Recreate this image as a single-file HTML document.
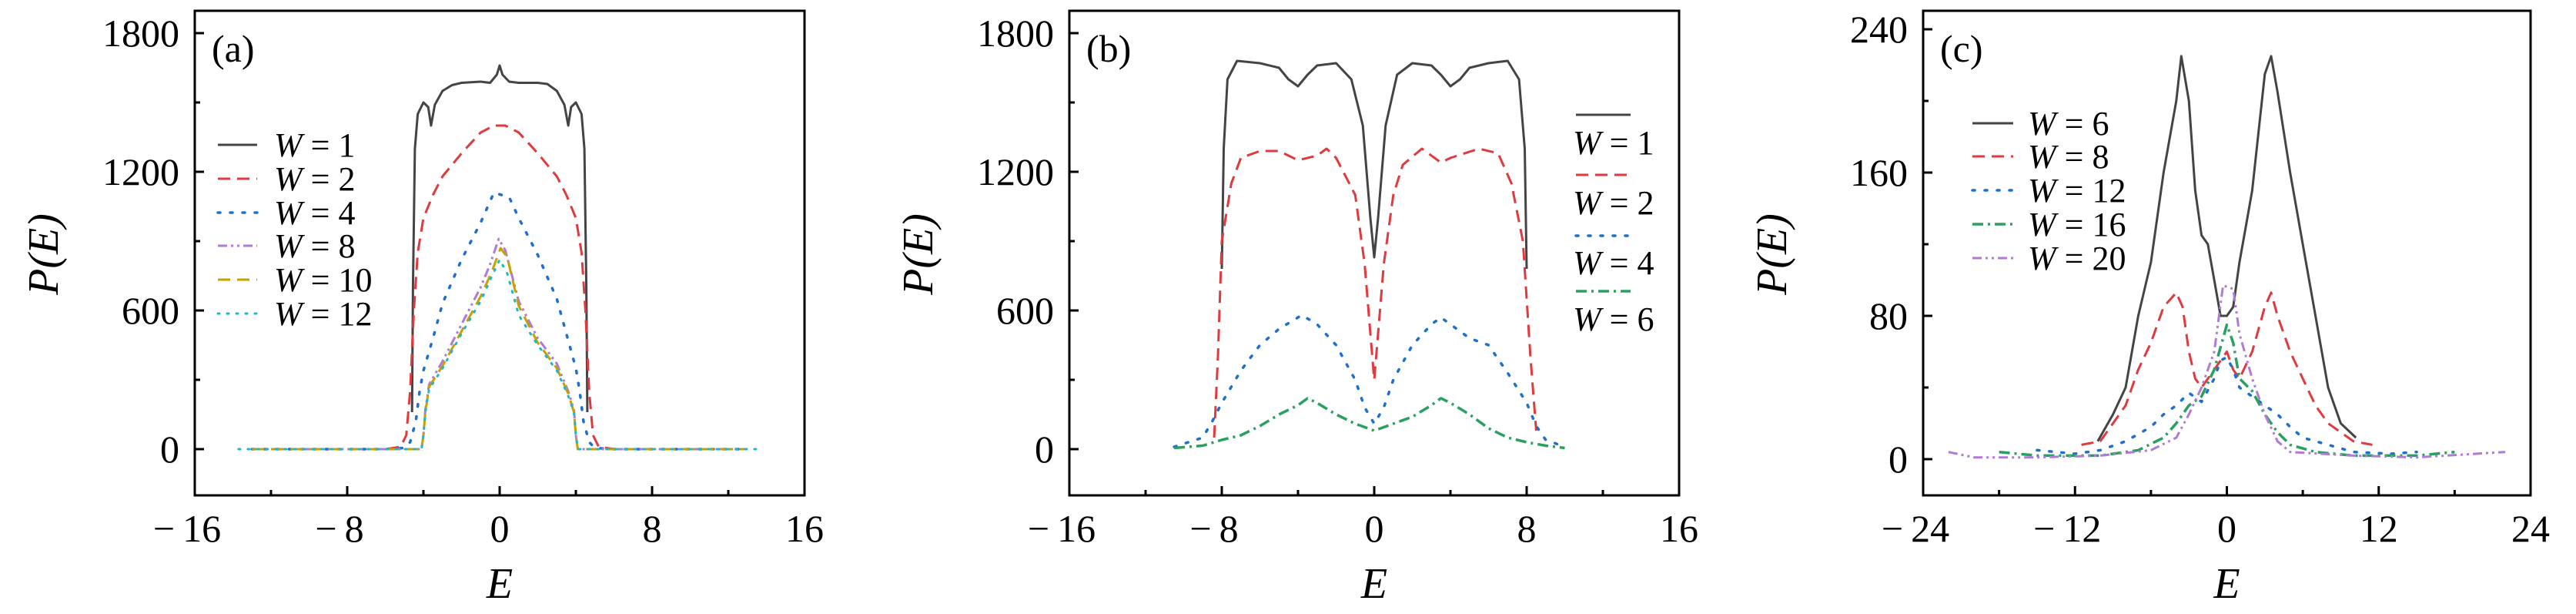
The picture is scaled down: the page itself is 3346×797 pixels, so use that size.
<!DOCTYPE html>
<html><head><meta charset="utf-8">
<style>
html,body{margin:0;padding:0;background:#fff;}
svg{display:block;}
text{font-family:"Liberation Serif",serif;fill:#000;}
</style></head>
<body>
<svg id="fig" width="3346" height="797" viewBox="0 0 3346 797" xmlns="http://www.w3.org/2000/svg"></svg>
<script>
// ---- Panel (a) data ----
const aNames = ["W = 1","W = 2","W = 4","W = 8","W = 10","W = 12"];
const aW1E = [-4.6,-4.55,-4.45,-4.3,-4.0,-3.75,-3.6,-3.4,-3.0,-2.5,-2.0,-1.0,-0.5,-0.15,0,0.15,0.5,1.0,2.0,2.5,3.0,3.4,3.6,3.75,4.0,4.3,4.45,4.55,4.6];
const aW1P = [160,700,1300,1450,1500,1480,1400,1490,1550,1575,1585,1590,1585,1620,1660,1620,1590,1585,1585,1580,1550,1490,1400,1480,1500,1450,1300,700,160];
const aW2E = [-13,-6,-5.2,-4.9,-4.7,-4.5,-4.3,-4.0,-3.5,-3.0,-2.0,-1.0,-0.3,0,0.3,1.0,2.0,3.0,3.5,4.0,4.3,4.5,4.7,4.9,5.2,6,13];
const aW2P = [0,0,10,60,250,600,850,1000,1100,1180,1280,1370,1400,1400,1400,1370,1280,1180,1100,1000,850,600,250,60,10,0,0];
const aW4E = [-13,-6,-5,-4.7,-4.4,-4.2,-4,-3.5,-3,-2,-1,-0.3,0.5,1,2,3,3.5,4,4.2,4.4,4.7,5,6,13];
const aW4P = [0,0,5,30,120,250,340,480,630,820,980,1110,1090,1000,840,650,500,350,250,120,30,5,0,0];
const aW8E = [-13,-4.1,-4.0,-3.9,-3.7,-3,-2,-1,-0.5,-0.05,0.3,1,2,3,3.6,3.9,4.0,4.1,13];
const aW8P = [0,0,60,170,280,380,540,700,800,910,860,640,480,370,250,170,60,0,0];
const aW10E = [-13,-4.1,-4.0,-3.9,-3.7,-3,-2,-1,-0.4,0.05,0.4,1,2,3,3.6,3.9,4.0,4.1,13];
const aW10P = [0,0,60,160,270,360,510,660,770,870,830,620,460,350,240,160,60,0,0];
const aW12E = [-13.7,-4.1,-4.0,-3.9,-3.7,-3,-2,-1,-0.4,0,0.4,1,2,3,3.6,3.9,4.0,4.1,13.7];
const aW12P = [0,0,60,160,260,350,500,640,750,820,760,580,450,340,230,160,60,0,0];
// ---- Panel (b) data ----
const bNames = ["W = 1","W = 2","W = 4","W = 6"];
const bW1E = [-8,-7.9,-7.7,-7.2,-6,-5,-4.5,-4,-3.5,-3,-2,-1.2,-0.6,-0.2,0,0.2,0.6,1.2,2,3,3.5,4,4.5,5,6,7,7.6,7.9,8];
const bW1P = [780,1300,1600,1680,1670,1650,1600,1570,1620,1660,1670,1600,1400,1000,830,1000,1400,1620,1670,1660,1620,1570,1600,1650,1670,1680,1600,1300,780];
const bW2E = [-8.4,-8.2,-8,-7.5,-7,-6,-5,-4,-3,-2.5,-2,-1,-0.5,-0.2,0,0.2,0.5,1,1.5,2.5,3.5,4,5.5,6.5,7.2,7.8,8.2,8.5];
const bW2P = [50,400,900,1150,1260,1290,1290,1250,1270,1300,1260,1100,800,500,300,500,800,1100,1230,1300,1240,1260,1300,1280,1150,900,400,80];
const bW4E = [-10.5,-9,-8.5,-8,-7,-6,-5,-3.8,-3,-2,-1,-0.5,0,0.5,1,2,3,3.5,4,5,6,7,8,8.5,9,10];
const bW4P = [10,50,120,200,340,450,520,580,540,450,300,180,110,180,300,450,540,570,540,480,450,330,200,100,40,10];
const bW6E = [-10.5,-9,-8,-7,-6,-5,-4,-3.5,-3,-2,-1,0,1,2,3,3.5,4,5,6,7,8,9,10];
const bW6P = [5,15,40,60,100,150,190,220,200,150,110,80,110,140,190,220,200,150,90,50,30,15,5];
// ---- Panel (c) data ----
const cNames = ["W = 6","W = 8","W = 12","W = 16","W = 20"];
const cW6E = [-10.2,-9,-8,-7,-6,-5,-4,-3.6,-3,-2.5,-2,-1.5,-1,-0.5,0,0.5,1,1.5,2,3,3.5,4,5,6,7,8,9,10.2];
const cW6P = [10,25,40,80,110,160,200,225,200,150,125,120,100,80,80,85,110,130,150,215,225,205,160,120,80,40,20,12];
const cW8E = [-11.5,-10,-9,-8,-7,-6,-5,-4,-3.5,-3,-2.5,-2,-1,0,0.5,1,2,3,3.5,4,5,6,7,8,10,11.5];
const cW8P = [8,10,20,30,50,65,85,93,85,60,45,40,50,60,50,45,60,85,93,80,60,45,30,20,10,8];
const cW12E = [-15,-12,-10,-8,-6,-5,-4,-3,-2,-1,-0.5,0,0.5,1,2,3,4,5,6,8,10,13,15];
const cW12P = [5,3,5,10,18,25,30,37,32,45,55,57,50,40,35,30,25,18,12,8,4,3,4];
const cW16E = [-18,-15,-10,-7,-5,-4,-3,-2,-1,0,0.5,1,2,3,4,5,7,10,15,18];
const cW16P = [4,2,2,5,12,20,30,35,50,75,65,45,38,25,15,8,4,2,2,4];
const cW20E = [-22,-20,-15,-10,-6,-4,-3,-2,-1,-0.3,0.5,1,2,3,4,5,10,15,22];
const cW20P = [4,1,1,2,5,12,25,40,60,97,95,70,45,25,10,4,2,1,4];

const yTicksA = [0,600,1200,1800], yMinorA = [300,900,1500];
const xTicksA = [-16,-8,0,8,16], xMinorA = [-12,-4,4,12];
const yTicksC = [0,80,160,240], yMinorC = [40,120,200];
const xTicksC = [-24,-12,0,12,24], xMinorC = [-18,-6,6,18];

const NS = "http://www.w3.org/2000/svg";
const svg = document.getElementById("fig");
function mk(tag, attrs, parent){
  const e = document.createElementNS(NS, tag);
  for (const k in attrs) e.setAttribute(k, attrs[k]);
  (parent||svg).appendChild(e);
  return e;
}
const styles = {
  solid:{stroke:"#444",dash:"",w:3},
  red:{stroke:"#e0393e",dash:"16 9",w:3},
  blue:{stroke:"#1f6fd0",dash:"3 13",w:3.5},
  purple:{stroke:"#b07ad8",dash:"12 5 3 5 3 5",w:3},
  gold:{stroke:"#c9a000",dash:"16 9",w:3},
  cyan:{stroke:"#1cb8c8",dash:"2 10",w:3},
  green:{stroke:"#2aa060",dash:"14 6 3 6",w:3.5}
};
function fmt(v){ return v<0 ? "\u2212\u2009"+Math.abs(v) : String(v); }

function panel(p){
  const g = mk("g",{});
  
  
  const X = v => p.L + (v - p.xmin)/(p.xmax-p.xmin)*(p.R-p.L);
  const Y = v => p.y0 + (v - 0)/(p.ymax)*(p.ytop - p.y0);
  p.series.forEach(s => {
    const st = styles[s.style];
    const d = s.E.map((e,i)=> (i?"L":"M")+X(e).toFixed(1)+" "+Y(s.P[i]).toFixed(1)).join(" ");
    const path = mk("path",{d:d,fill:"none",stroke:st.stroke,"stroke-width":st.w,"stroke-dasharray":st.dash,"stroke-linejoin":"round","stroke-linecap":s.style==="blue"||s.style==="cyan"?"round":"butt"},g);
    
    
  });
  const fr = mk("rect",{x:p.L,y:p.T,width:p.R-p.L,height:p.B-p.T,fill:"none",stroke:"#000","stroke-width":3},g);
  
  
  p.yT.forEach(v=>{
    mk("line",{x1:p.L,x2:p.L+12,y1:Y(v),y2:Y(v),stroke:"#000","stroke-width":3},g);
    const t = mk("text",{x:p.L-20,y:Y(v)+17,"font-size":50,"text-anchor":"end"},g);
    t.textContent = fmt(v);
    
    
  });
  p.yM.forEach(v=> mk("line",{x1:p.L,x2:p.L+7,y1:Y(v),y2:Y(v),stroke:"#000","stroke-width":3},g));
  p.xT.forEach(v=>{
    mk("line",{x1:X(v),x2:X(v),y1:p.B,y2:p.B-12,stroke:"#000","stroke-width":3},g);
    const t = mk("text",{x:X(v)+(v<0?-10:0),y:p.B+60,"font-size":50,"text-anchor":"middle"},g);
    t.textContent = fmt(v);
    
    
  });
  p.xM.forEach(v=> mk("line",{x1:X(v),x2:X(v),y1:p.B,y2:p.B-7,stroke:"#000","stroke-width":3},g));
  const xt = mk("text",{x:(p.L+p.R)/2,y:776,"font-size":56,"font-style":"italic","text-anchor":"middle"},g);
  xt.textContent = "E";
  
  
  const yt = mk("text",{x:0,y:0,"font-size":56,"font-style":"italic","text-anchor":"middle",transform:`translate(${p.L-178},330) rotate(-90)`},g);
  yt.textContent = "P(E)";
  
  
  const pl = mk("text",{x:p.L+22,y:80,"font-size":50},g);
  pl.textContent = p.label;
  
  
  p.series.forEach((s,i)=>{
    const st = styles[s.style];
    const lg = p.leg(i);
    const ln = mk("line",{x1:lg.lx1,x2:lg.lx2,y1:lg.ly,y2:lg.ly,stroke:st.stroke,"stroke-width":st.w,"stroke-dasharray":st.dash,"stroke-linecap":s.style==="blue"||s.style==="cyan"?"round":"butt"},g);
    
    
    const t = mk("text",{x:lg.tx,y:lg.ty,"font-size":44},g);
    const ti = document.createElementNS(NS,"tspan"); ti.setAttribute("font-style","italic"); ti.textContent="W";
    t.appendChild(ti);
    t.appendChild(document.createTextNode(" = "+s.label.split("= ")[1]));
    
    
  });
}

panel({name:"panel-a",label:"(a)",L:253,R:1045,T:14,B:643,xmin:-16,xmax:16,y0:583,ytop:43,ymax:1800,
  yT:yTicksA,yM:yMinorA,xT:xTicksA,xM:xMinorA,
  series:[
    {id:"series-a-w1",label:aNames[0],style:"solid",E:aW1E,P:aW1P},
    {id:"series-a-w2",label:aNames[1],style:"red",E:aW2E,P:aW2P},
    {id:"series-a-w4",label:aNames[2],style:"blue",E:aW4E,P:aW4P},
    {id:"series-a-w8",label:aNames[3],style:"purple",E:aW8E,P:aW8P},
    {id:"series-a-w10",label:aNames[4],style:"gold",E:aW10E,P:aW10P},
    {id:"series-a-w12",label:aNames[5],style:"cyan",E:aW12E,P:aW12P}],
  leg:i=>{const y=[188,232,276,319,363,407][i];return {lx1:283,lx2:334,ly:y,tx:356,ty:y+15};}
});
panel({name:"panel-b",label:"(b)",L:1389,R:2181,T:14,B:643,xmin:-16,xmax:16,y0:583,ytop:43,ymax:1800,
  yT:yTicksA,yM:yMinorA,xT:xTicksA,xM:xMinorA,
  series:[
    {id:"series-b-w1",label:bNames[0],style:"solid",E:bW1E,P:bW1P},
    {id:"series-b-w2",label:bNames[1],style:"red",E:bW2E,P:bW2P},
    {id:"series-b-w4",label:bNames[2],style:"blue",E:bW4E,P:bW4P},
    {id:"series-b-w6",label:bNames[3],style:"green",E:bW6E,P:bW6P}],
  leg:i=>{const ly=[149,227,306,378][i];const ty=[185,263,341,414][i];return {lx1:2047,lx2:2118,ly:ly,tx:2043,ty:ty+15};}
});
panel({name:"panel-c",label:"(c)",L:2498,R:3287,T:14,B:643,xmin:-24,xmax:24,y0:596,ytop:38,ymax:240,
  yT:yTicksC,yM:yMinorC,xT:xTicksC,xM:xMinorC,
  series:[
    {id:"series-c-w6",label:cNames[0],style:"solid",E:cW6E,P:cW6P},
    {id:"series-c-w8",label:cNames[1],style:"red",E:cW8E,P:cW8P},
    {id:"series-c-w12",label:cNames[2],style:"blue",E:cW12E,P:cW12P},
    {id:"series-c-w16",label:cNames[3],style:"green",E:cW16E,P:cW16P},
    {id:"series-c-w20",label:cNames[4],style:"purple",E:cW20E,P:cW20P}],
  leg:i=>{const y=[160,203,247,291,335][i];return {lx1:2562,lx2:2615,ly:y,tx:2634,ty:y+15};}
});
</script>
</body></html>
